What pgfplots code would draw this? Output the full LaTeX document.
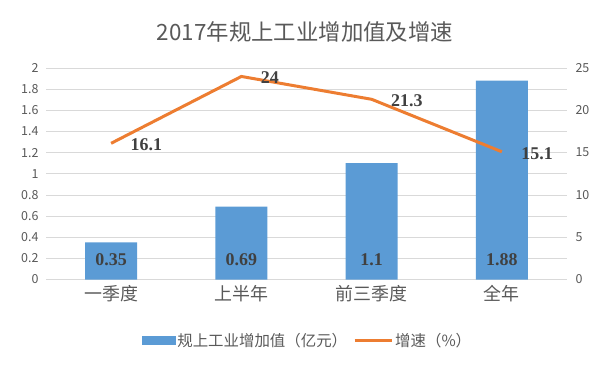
\documentclass[border=0pt]{standalone}
\usepackage{pgfplots}
\pgfplotsset{compat=1.18}
\usepackage{fontspec}
\setmainfont{Noto Sans CJK SC}
\newfontfamily\labfont{Liberation Serif}
\definecolor{barblue}{HTML}{5B9BD5}
\definecolor{lineorange}{HTML}{ED7D31}
\definecolor{txt}{HTML}{595959}
\definecolor{lab}{HTML}{404040}
\definecolor{gridc}{HTML}{D9D9D9}
\pgfplotsset{
  common/.style={
    at={(46bp,92.5bp)}, anchor=south west,
    width=521bp, height=211.5bp, scale only axis,
    xmin=-0.5, xmax=3.5, clip=false,
    /pgf/number format/assume math mode=true,
    major tick length=0pt,
    yticklabel style={font=\fontsize{12.5}{14}\selectfont, text=txt},
  }
}
\begin{document}
\begin{tikzpicture}[x=1bp,y=1bp]
\path[use as bounding box] (0,0) rectangle (612,372);
\node[text=txt, font=\fontsize{22.5}{26}\selectfont] at (305,340) {2017年规上工业增加值及增速};

\begin{axis}[common,
  ymin=0, ymax=2,
  ytick={0,0.2,0.4,0.6,0.8,1,1.2,1.4,1.6,1.8,2},
  yticklabel style={/pgf/number format/fixed, /pgf/number format/precision=1, xshift=-4bp},
  axis line style={draw=none},
  ymajorgrids, grid style={gridc, line width=0.75bp},
  xtick={0,1,2,3}, xticklabels={一季度,上半年,前三季度,全年},
  xticklabel style={font=\fontsize{18}{20}\selectfont, text=txt, yshift=-2bp},
]
\addplot[ybar, bar width=52bp, fill=barblue, draw=none] coordinates {(0,0.35) (1,0.69) (2,1.1) (3,1.88)};
\addplot[draw=none, nodes near coords, point meta=explicit symbolic,
  every node near coord/.append style={anchor=center, yshift=20bp, inner sep=0pt,
    font=\labfont\bfseries\fontsize{18}{20}\selectfont, text=lab}]
  coordinates {(0,0) [0.35] (1,0) [0.69] (2,0) [1.1] (3,0) [1.88]};
\end{axis}

\begin{axis}[common,
  ymin=0, ymax=25, ytick={0,5,10,15,20,25},
  axis x line=none, axis y line*=right,
  y axis line style={draw=none},
  yticklabel style={xshift=5bp},
  legend style={at={(0.502,-0.289)}, anchor=center, draw=none, fill=none,
    legend columns=-1, font=\fontsize{15.5}{17}\selectfont, text=txt,
    /tikz/every even column/.append style={column sep=4bp}},
]
\addlegendimage{legend image code/.code={\fill[barblue] (0bp,-4bp) rectangle (33bp,4bp);}}
\addlegendentry{规上工业增加值（亿元）}
\addplot[lineorange, line width=3bp, nodes near coords, point meta=explicit symbolic,
  legend image code/.code={\draw[lineorange, line width=3bp] (0bp,0bp) -- (37bp,0bp);},
  every node near coord/.append style={anchor=west, xshift=18bp, yshift=-1.5bp, inner sep=0pt,
    font=\labfont\bfseries\fontsize{18}{20}\selectfont, text=lab}]
  coordinates {(0,16.1) [16.1] (1,24) [24] (2,21.3) [21.3] (3,15.1) [15.1]};
\addlegendentry{增速（\%）}
\end{axis}
\end{tikzpicture}
\end{document}
